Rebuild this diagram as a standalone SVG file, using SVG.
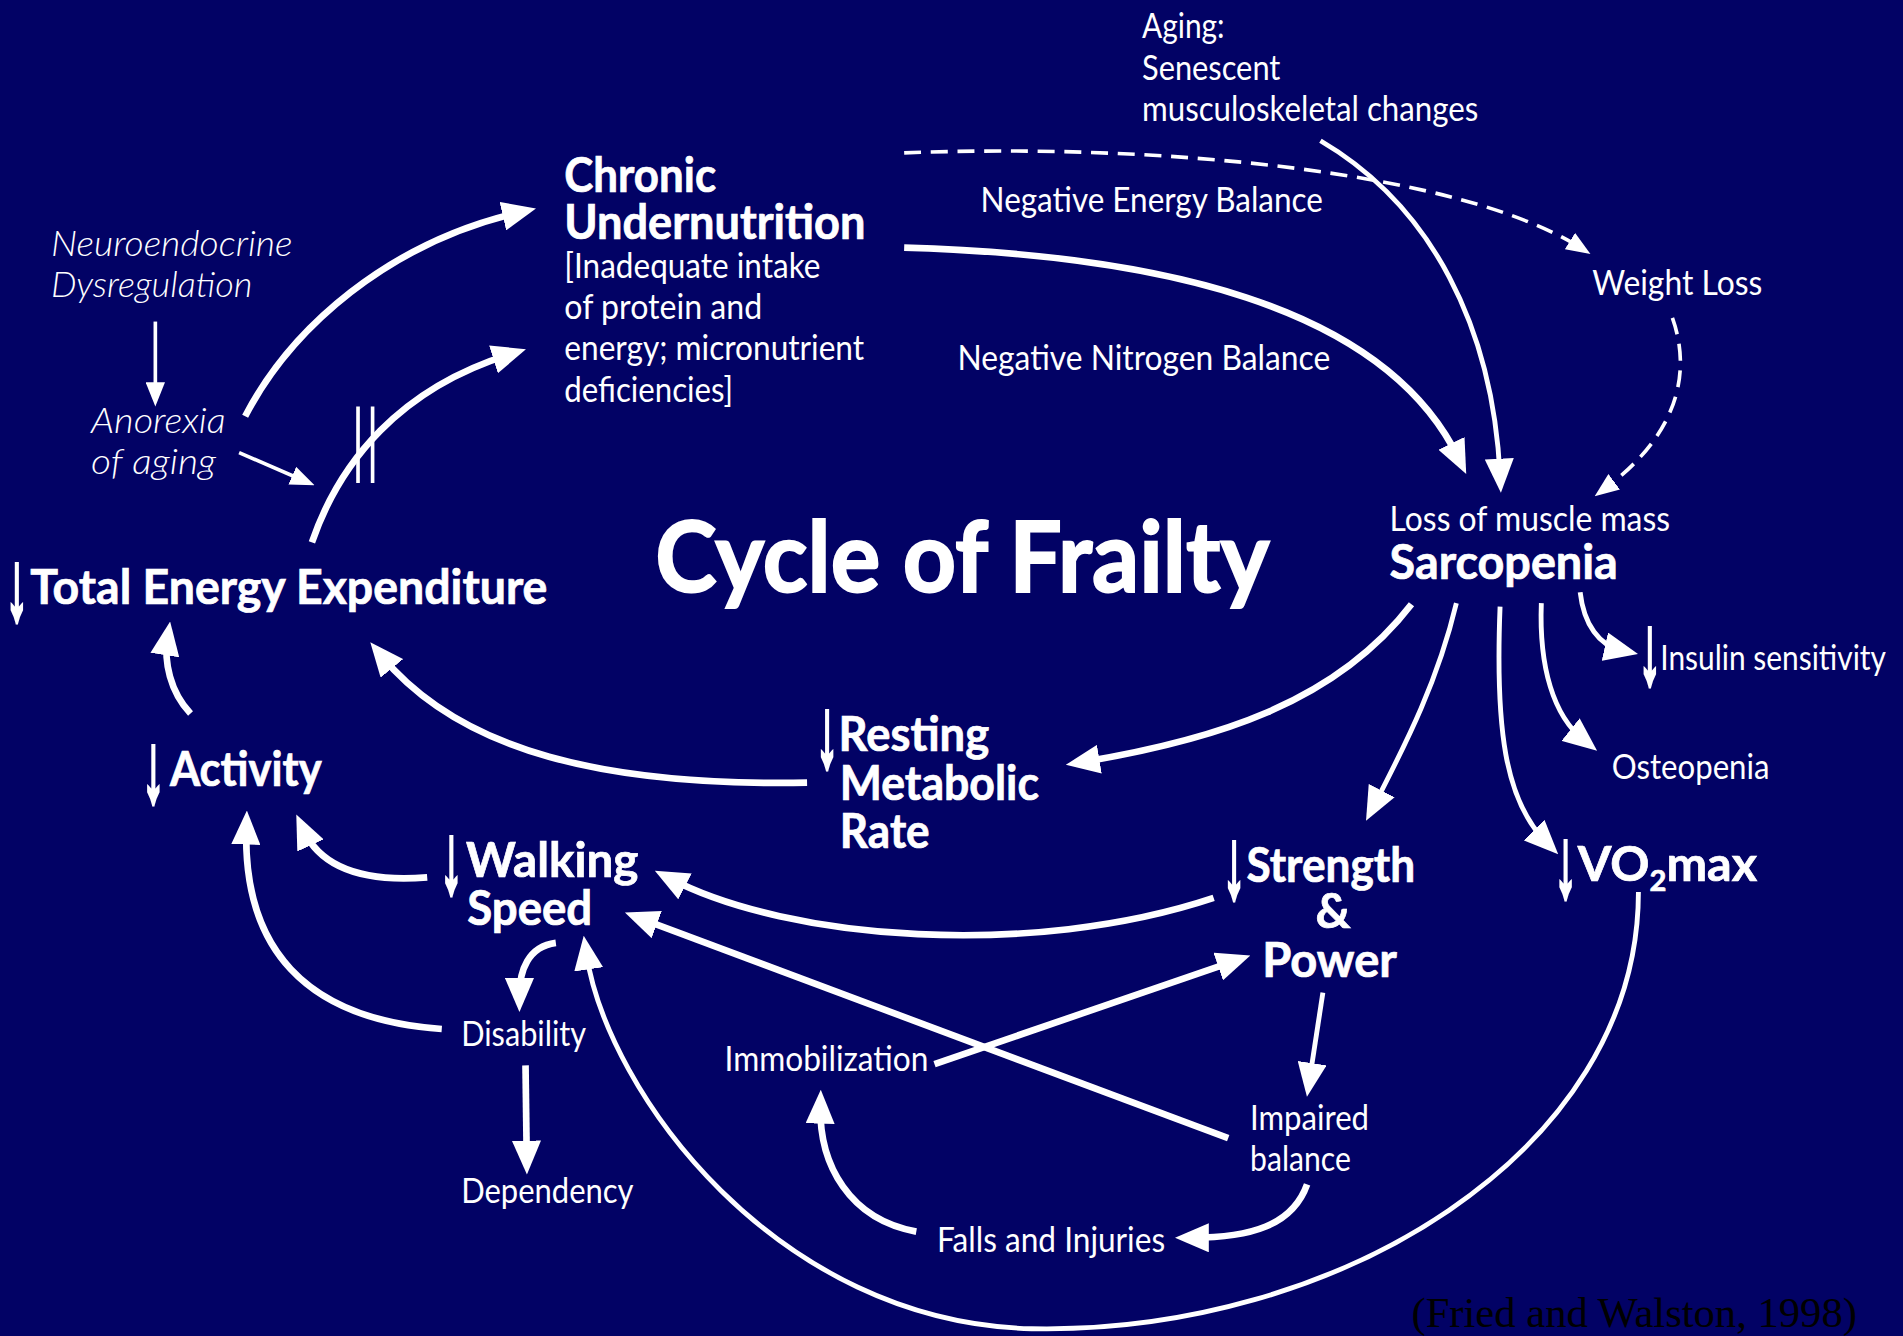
<svg xmlns="http://www.w3.org/2000/svg" width="1903" height="1336" viewBox="0 0 1903 1336">
<defs>
<style>
text{fill:#fff;font-family:Lato,"Open Sans","Liberation Sans",sans-serif}
.b{font-weight:700;font-size:40px;stroke:#fff;stroke-width:0.6px}
.r{font-weight:400;font-size:28px}
.i{font-style:italic;font-weight:300;font-size:29px}
.ar{font-family:"Liberation Sans",sans-serif;font-weight:400;font-size:80px;text-anchor:middle;stroke:#fff;stroke-width:4px}
.c{stroke:#fff;fill:none;stroke-width:5.5;stroke-linecap:butt}
.m{stroke:#fff;fill:none;stroke-width:4;stroke-linecap:butt}
.t{stroke:#fff;fill:none;stroke-width:3}
.d{stroke:#fff;fill:none;stroke-width:3;stroke-dasharray:14 8}
</style>
<marker id="ah" markerUnits="userSpaceOnUse" markerWidth="28" markerHeight="24" refX="14" refY="12" orient="auto">
<path d="M0,0 L28,12 L0,24 z" fill="#fff"/>
</marker>
<marker id="as" markerUnits="userSpaceOnUse" markerWidth="20" markerHeight="16" refX="10" refY="8" orient="auto">
<path d="M0,0 L20,8 L0,16 z" fill="#fff"/>
</marker>
</defs>
<rect width="1903" height="1336" fill="#020265"/>
<g transform="scale(1.21365,1.21344)">
<g id="connectors">
<path class="c" d="M202,343 C240,270 320,200 428,175" marker-end="url(#ah)"/>
<path class="c" d="M257,447 C280,380 330,320 420,292" marker-end="url(#ah)"/>
<path class="t" d="M295,335 L295,398 M307,335 L307,398"/>
<path class="t" d="M197,373 L250,396" marker-end="url(#as)"/>
<path class="t" d="M128,265 L128,325" marker-end="url(#as)"/>
<path class="c" d="M745,204 C950,210 1140,250 1202,378" marker-end="url(#ah)"/>
<path class="d" d="M745,126 C950,118 1200,140 1302,204" marker-end="url(#as)"/>
<path class="m" d="M1088,116 C1180,170 1230,270 1236,392" marker-end="url(#ah)"/>
<path class="d" d="M1378,262 C1395,310 1380,360 1322,403" marker-end="url(#as)"/>
<path class="c" d="M1163,498 C1100,580 1000,610 892,628" marker-end="url(#ah)"/>
<path class="m" d="M1200,497 C1185,560 1160,610 1132,664" marker-end="url(#ah)"/>
<path class="m" d="M1236,500 C1232,600 1240,660 1274,694" marker-end="url(#ah)"/>
<path class="m" d="M1270,497 C1268,550 1280,590 1305,610" marker-end="url(#ah)"/>
<path class="m" d="M1302,488 C1305,515 1318,532 1336,536" marker-end="url(#ah)"/>
<path class="c" d="M665,645 C500,648 380,620 314,540" marker-end="url(#ah)"/>
<path class="c" d="M157,588 C140,570 135,545 138,526" marker-end="url(#ah)"/>
<path class="c" d="M352,723 C290,728 262,710 250,684" marker-end="url(#ah)"/>
<path class="c" d="M364,848 C250,840 200,780 203,682" marker-end="url(#ah)"/>
<path class="c" d="M458,777 C435,780 428,800 428,820" marker-end="url(#ah)"/>
<path class="c" d="M433,878 L434,954" marker-end="url(#ah)"/>
<path class="c" d="M1000,740 C850,790 650,775 552,724" marker-end="url(#ah)"/>
<path class="c" d="M1012,938 L528,757" marker-end="url(#ah)"/>
<path class="c" d="M770,877 L1017,792" marker-end="url(#ah)"/>
<path class="m" d="M1090,818 L1079,890" marker-end="url(#ah)"/>
<path class="c" d="M1077,976 C1065,1010 1030,1020 982,1020" marker-end="url(#ah)"/>
<path class="c" d="M755,1015 C700,1005 675,960 676,912" marker-end="url(#ah)"/>
<path class="m" d="M1350,735 C1350,950 1100,1100 850,1095 C640,1090 500,900 483,785" marker-end="url(#ah)"/>
</g>
<g id="aging"><text class="r"><tspan x="941" y="31" textLength="68" lengthAdjust="spacingAndGlyphs">Aging:</tspan><tspan x="941" y="66" textLength="114" lengthAdjust="spacingAndGlyphs">Senescent</tspan><tspan x="941" y="100" textLength="277" lengthAdjust="spacingAndGlyphs">musculoskeletal changes</tspan></text></g>
<g id="chronic-undernutrition"><text class="b"><tspan x="465" y="158" textLength="125" lengthAdjust="spacingAndGlyphs">Chronic</tspan><tspan x="465" y="197" textLength="248" lengthAdjust="spacingAndGlyphs">Undernutrition</tspan></text><text class="r"><tspan x="465" y="229" textLength="211" lengthAdjust="spacingAndGlyphs">[Inadequate intake</tspan><tspan x="465" y="263" textLength="163" lengthAdjust="spacingAndGlyphs">of protein and</tspan><tspan x="465" y="297" textLength="247" lengthAdjust="spacingAndGlyphs">energy; micronutrient</tspan><tspan x="465" y="331" textLength="139" lengthAdjust="spacingAndGlyphs">deficiencies]</tspan></text></g>
<g id="neg-energy"><text class="r" x="808" y="175" textLength="282" lengthAdjust="spacingAndGlyphs">Negative Energy Balance</text></g>
<g id="neg-nitrogen"><text class="r" x="789" y="305" textLength="307" lengthAdjust="spacingAndGlyphs">Negative Nitrogen Balance</text></g>
<g id="weight-loss"><text class="r" x="1312" y="243" textLength="140" lengthAdjust="spacingAndGlyphs">Weight Loss</text></g>
<g id="neuroendocrine"><text class="i"><tspan x="42" y="211" textLength="199" lengthAdjust="spacingAndGlyphs">Neuroendocrine</tspan><tspan x="42" y="245" textLength="166" lengthAdjust="spacingAndGlyphs">Dysregulation</tspan></text></g>
<g id="anorexia"><text class="i"><tspan x="75" y="357" textLength="111" lengthAdjust="spacingAndGlyphs">Anorexia</tspan><tspan x="75" y="391" textLength="103" lengthAdjust="spacingAndGlyphs">of aging</tspan></text></g>
<g id="total-energy"><text class="ar" transform="translate(14,510) scale(0.45,1)">↓</text><text class="b" x="25" y="498" textLength="426" lengthAdjust="spacingAndGlyphs">Total Energy Expenditure</text></g>
<g id="title"><text x="540" y="488" font-size="80" font-weight="700" stroke="#fff" stroke-width="1.6" textLength="506" lengthAdjust="spacingAndGlyphs">Cycle of Frailty</text></g>
<g id="sarcopenia"><text class="r" x="1145" y="438" textLength="231" lengthAdjust="spacingAndGlyphs">Loss of muscle mass</text><text class="b" x="1145" y="477" font-size="38" textLength="188" lengthAdjust="spacingAndGlyphs">Sarcopenia</text></g>
<g id="insulin"><text class="ar" transform="translate(1359.5,563) scale(0.45,1)" font-size="62">↓</text><text class="r" x="1368" y="552" font-size="24.5" textLength="186" lengthAdjust="spacingAndGlyphs">Insulin sensitivity</text></g>
<g id="resting"><text class="ar" transform="translate(681.5,631) scale(0.45,1)">↓</text><text class="b"><tspan x="691" y="619" textLength="124" lengthAdjust="spacingAndGlyphs">Resting</tspan><tspan x="692" y="659" textLength="164" lengthAdjust="spacingAndGlyphs">Metabolic</tspan><tspan x="692" y="699" textLength="74" lengthAdjust="spacingAndGlyphs">Rate</tspan></text></g>
<g id="activity"><text class="ar" transform="translate(126.5,660) scale(0.45,1)">↓</text><text class="b" x="140" y="648" textLength="125" lengthAdjust="spacingAndGlyphs">Activity</text></g>
<g id="osteopenia"><text class="r" x="1328" y="642" textLength="130" lengthAdjust="spacingAndGlyphs">Osteopenia</text></g>
<g id="walking"><text class="ar" transform="translate(372,735) scale(0.45,1)">↓</text><text class="b"><tspan x="384" y="723" textLength="142" lengthAdjust="spacingAndGlyphs">Walking</tspan><tspan x="385" y="762" textLength="103" lengthAdjust="spacingAndGlyphs">Speed</tspan></text></g>
<g id="strength"><text class="ar" transform="translate(1017,739) scale(0.45,1)">↓</text><text class="b"><tspan x="1027" y="727" textLength="139" lengthAdjust="spacingAndGlyphs">Strength</tspan><tspan x="1084" y="765">&amp;</tspan><tspan x="1040" y="805" textLength="111" lengthAdjust="spacingAndGlyphs">Power</tspan></text></g>
<g id="vo2max"><text class="ar" transform="translate(1290,738) scale(0.45,1)">↓</text><text class="b"><tspan x="1300" y="726">VO</tspan><tspan font-size="24" dy="8">2</tspan><tspan dy="-8">max</tspan></text></g>
<g id="disability"><text class="r" x="380" y="862" textLength="103" lengthAdjust="spacingAndGlyphs">Disability</text></g>
<g id="immobilization"><text class="r" x="597" y="883" textLength="168" lengthAdjust="spacingAndGlyphs">Immobilization</text></g>
<g id="impaired-balance"><text class="r"><tspan x="1030" y="931" textLength="98" lengthAdjust="spacingAndGlyphs">Impaired</tspan><tspan x="1030" y="965" textLength="83" lengthAdjust="spacingAndGlyphs">balance</tspan></text></g>
<g id="dependency"><text class="r" x="380" y="991" textLength="142" lengthAdjust="spacingAndGlyphs">Dependency</text></g>
<g id="falls"><text class="r" x="772" y="1032" textLength="188" lengthAdjust="spacingAndGlyphs">Falls and Injuries</text></g>
<g id="citation"><text x="1163" y="1094" font-size="34" textLength="367" lengthAdjust="spacingAndGlyphs" style="fill:#000;font-family:'Liberation Serif',serif">(Fried and Walston, 1998)</text></g>
</g>
</svg>
